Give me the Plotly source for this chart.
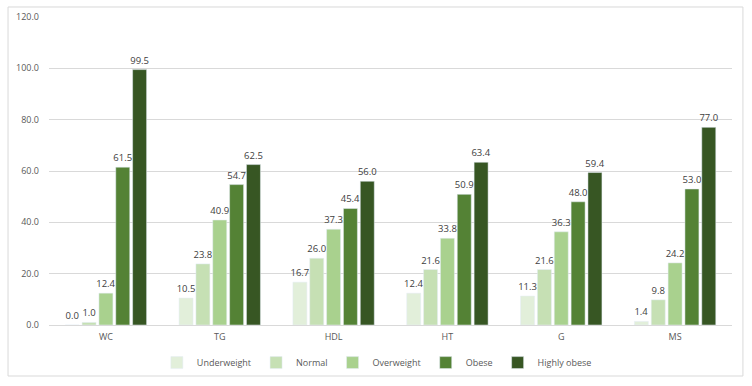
import plotly.graph_objects as go

categories = ["WC", "TG", "HDL", "HT", "G", "MS"]
underweight = [0.0, 10.5, 16.7, 12.4, 11.3, 1.4]
normal = [1.0, 23.8, 26.0, 21.6, 21.6, 9.8]
overweight = [12.4, 40.9, 37.3, 33.8, 36.3, 24.2]
obese = [61.5, 54.7, 45.4, 50.9, 48.0, 53.0]
highly_obese = [99.5, 62.5, 56.0, 63.4, 59.4, 77.0]

series = [
    ("Underweight", underweight, "#E2EFDA"),
    ("Normal", normal, "#C6E0B4"),
    ("Overweight", overweight, "#A9D18E"),
    ("Obese", obese, "#548235"),
    ("Highly obese", highly_obese, "#375623"),
]

fig = go.Figure()
for name, vals, col in series:
    fig.add_trace(go.Bar(
        x=categories, y=vals, name=name, marker_color=col,
        text=[f"{v:.1f}" for v in vals], textposition="outside",
        constraintext="none",
        textfont=dict(size=9.5, color="#404040"), cliponaxis=False,
    ))

fig.update_layout(
    width=752, height=386,
    margin=dict(l=49, r=20, t=17, b=61, autoexpand=False),
    paper_bgcolor="white", plot_bgcolor="white",
    font=dict(family="Open Sans, Liberation Sans, sans-serif", size=10, color="#595959"),
    barmode="group", bargap=0.26, bargroupgap=0.17,
    showlegend=True,
    legend=dict(orientation="h", x=0.48, xanchor="center", y=-0.075, yanchor="top",
                bgcolor="rgba(0,0,0,0)",
                font=dict(size=9, color="#595959"), itemwidth=30, traceorder="normal"),
    shapes=[dict(type="rect", xref="paper", yref="paper", x0=-0.06, x1=1.016,
                 y0=-0.1656, y1=1.0325, line=dict(color="#D9D9D9", width=1))],
)
fig.update_yaxes(range=[0, 120], dtick=20, tickformat=".1f", showgrid=True,
                 gridcolor="#D9D9D9", zeroline=False, showline=False, automargin=False,
                 ticklabelstandoff=9,
                 tickfont=dict(size=9, color="#595959"), ticks="", ticklen=0)
fig.update_xaxes(showline=True, linecolor="#D9D9D9", ticks="", automargin=False,
                 ticklabelstandoff=3,
                 tickfont=dict(size=9, color="#595959"))

fig.write_html("out.html", config={"displayModeBar": False},
               post_script="document.body.style.margin='0';document.body.style.overflow='hidden';")
